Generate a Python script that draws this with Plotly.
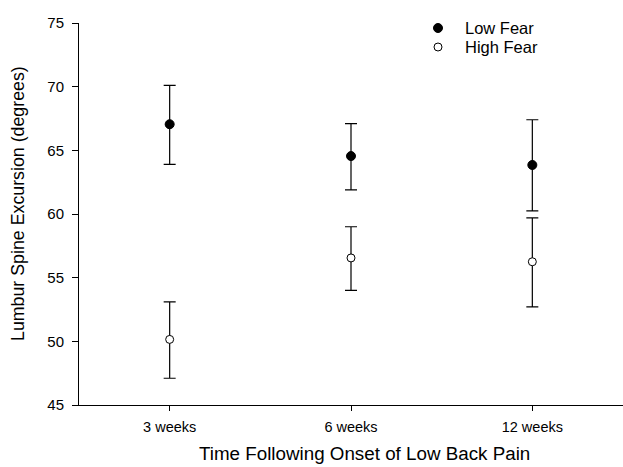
import plotly.graph_objects as go

categories = ["3 weeks", "6 weeks", "12 weeks"]
low_fear = [67.05, 64.55, 63.85]
low_fear_upper = [70.1, 67.1, 67.4]
low_fear_lower = [63.9, 61.9, 60.25]
high_fear = [50.15, 56.55, 56.25]
high_fear_upper = [53.1, 59.0, 59.7]
high_fear_lower = [47.1, 54.0, 52.7]
series_names = ["Low Fear", "High Fear"]

xs = [0, 1, 2]

W, H = 623, 467
# plot area in page pixels
PL, PT, PB, PR = 79, 23, 405, 623
L, T, B, R = PL, PT, H - PB, W - PR
PW, PH = PR - PL, PB - PT

def px_x(p):
    return (p - PL) / PW

def px_y(p):
    return (PB - p) / PH

def err(vals, up, lo):
    return dict(type="data", symmetric=False,
                array=[u - v for u, v in zip(up, vals)],
                arrayminus=[v - l for v, l in zip(vals, lo)],
                color="black", thickness=1.2, width=6)

fig = go.Figure()
fig.add_trace(go.Scatter(
    x=xs, y=low_fear, mode="markers", name=series_names[0], showlegend=False,
    marker=dict(symbol="circle", size=9, color="black", line=dict(color="black", width=1)),
    error_y=err(low_fear, low_fear_upper, low_fear_lower)))
fig.add_trace(go.Scatter(
    x=xs, y=high_fear, mode="markers", name=series_names[1], showlegend=False,
    marker=dict(symbol="circle", size=8, color="white", line=dict(color="black", width=1)),
    error_y=err(high_fear, high_fear_upper, high_fear_lower)))

# legend drawn manually
leg = [(series_names[0], 28, "black", 4.5), (series_names[1], 47, "white", 4)]
for name, yc, fill, r in leg:
    fig.add_shape(type="circle", xref="paper", yref="paper",
                  x0=px_x(438 - r), x1=px_x(438 + r), y0=px_y(yc + r), y1=px_y(yc - r),
                  fillcolor=fill, line=dict(color="black", width=1))
    fig.add_annotation(text=name, xref="paper", yref="paper", x=px_x(463), y=px_y(yc),
                       xanchor="left", yanchor="middle", showarrow=False,
                       font=dict(size=16.5))

fig.add_annotation(text="Time Following Onset of Low Back Pain", xref="paper", yref="paper",
                   x=px_x(364), y=px_y(442), xanchor="center", yanchor="top",
                   showarrow=False, font=dict(size=18.8), borderpad=0)
fig.add_annotation(text="Lumbur Spine Excursion (degrees)", xref="paper", yref="paper",
                   x=px_x(18), y=px_y(204), xanchor="center", yanchor="middle",
                   textangle=-90, showarrow=False, font=dict(size=17.8))

fig.update_layout(
    width=W, height=H,
    margin=dict(l=L, r=R, t=T, b=B, pad=0, autoexpand=False),
    plot_bgcolor="white", paper_bgcolor="white",
    font=dict(family="Liberation Sans, Arial, sans-serif", color="black"),
    showlegend=False,
    xaxis=dict(range=[-0.5, 2.5], tickvals=xs, ticktext=categories,
               showline=True, linecolor="black", linewidth=1,
               ticks="outside", ticklen=5, tickcolor="black",
               showgrid=False, zeroline=False, tickfont=dict(size=14.5),
               automargin=False, ticklabelstandoff=4),
    yaxis=dict(range=[45, 75], tickvals=[45, 50, 55, 60, 65, 70, 75],
               showline=True, linecolor="black", linewidth=1,
               ticks="outside", ticklen=6, tickcolor="black",
               showgrid=False, zeroline=False, tickfont=dict(size=15),
               automargin=False, ticklabelstandoff=5),
)

fig.write_html("out.html", config={"displayModeBar": False},
               post_script="document.body.style.margin='0px';document.body.style.overflow='hidden';")
